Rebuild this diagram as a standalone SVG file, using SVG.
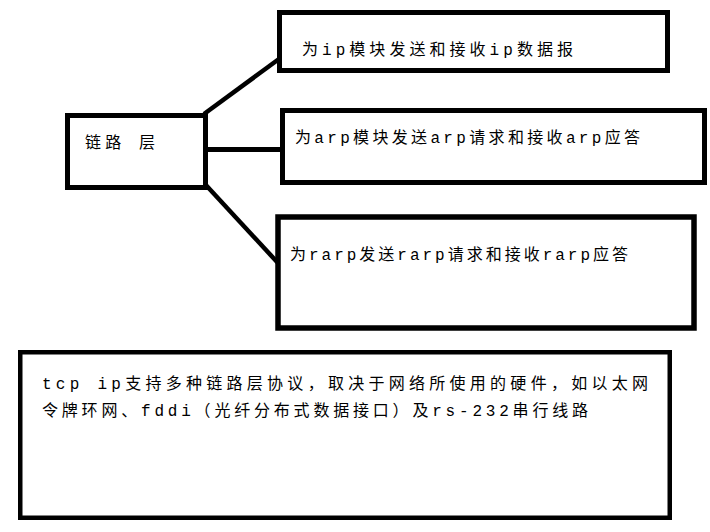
<svg xmlns="http://www.w3.org/2000/svg" width="710" height="532" viewBox="0 0 710 532">
  <style>
    .box { fill: #ffffff; stroke: #000000; stroke-width: 5; }
    .conn { stroke: #000000; stroke-width: 4.5; fill: none; }
    .lbl { font-family: "Liberation Mono", "Noto Sans CJK SC", monospace; font-size: 16px; fill: #000000; }
  </style>
  <rect width="710" height="532" fill="#ffffff"/>
  <g id="connectors">
    <line class="conn" x1="204" y1="114" x2="279" y2="59"/>
    <line class="conn" x1="206" y1="149.5" x2="282" y2="149.5" style="stroke-width:5"/>
    <line class="conn" x1="204" y1="183" x2="278" y2="263"/>
  </g>
  <g id="node-link">
    <rect class="box" x="67.5" y="115.5" width="138" height="72"/>
    <text class="lbl" x="85" y="148" textLength="70" lengthAdjust="spacing">链路 层</text>
  </g>
  <g id="node-ip">
    <rect class="box" x="279.5" y="12.5" width="388" height="58"/>
    <text class="lbl" x="302" y="55" textLength="271" lengthAdjust="spacing">为ip模块发送和接收ip数据报</text>
  </g>
  <g id="node-arp">
    <rect class="box" x="282.5" y="110.5" width="422" height="72"/>
    <text class="lbl" x="295" y="143" textLength="345" lengthAdjust="spacing">为arp模块发送arp请求和接收arp应答</text>
  </g>
  <g id="node-rarp">
    <rect class="box" x="278" y="217" width="416" height="111" style="stroke-width:5.5"/>
    <text class="lbl" x="290" y="260" textLength="338" lengthAdjust="spacing">为rarp发送rarp请求和接收rarp应答</text>
  </g>
  <g id="node-note">
    <rect class="box" x="20.25" y="352.25" width="649.5" height="165.5" style="stroke-width:4.5"/>
    <text class="lbl" x="42" y="389" textLength="606" lengthAdjust="spacing">tcp ip支持多种链路层协议，取决于网络所使用的硬件，如以太网</text>
    <text class="lbl" x="42" y="416" textLength="546" lengthAdjust="spacing">令牌环网、fddi（光纤分布式数据接口）及rs-232串行线路</text>
  </g>
</svg>
